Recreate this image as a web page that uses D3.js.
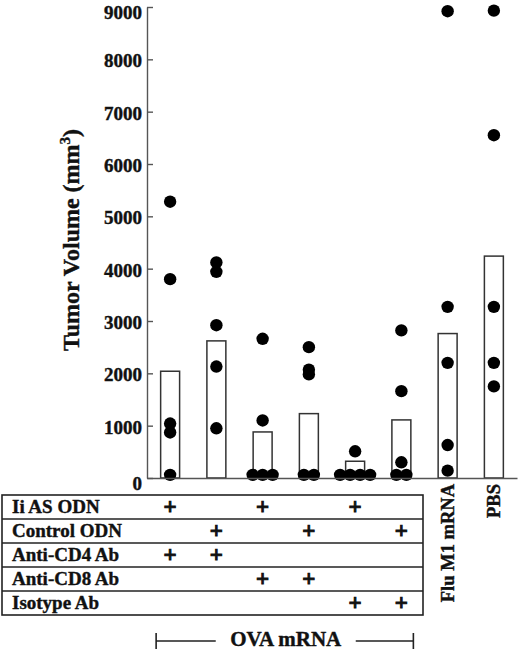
<!DOCTYPE html>
<html lang="en">
<head>
   <meta charset="UTF-8">
   <title>Tumor Volume</title>
   <style>
      html, body {
         margin: 0;
         padding: 0;
         background: #fff;
         overflow: hidden;
      }

      text {
         font-family: "Liberation Serif", "Times New Roman", serif;
         font-weight: bold;
         fill: #111;
         stroke: #111;
         stroke-width: 0.4px;
      }

      .axis path, .axis line {
         stroke: #555;
         stroke-width: 1.4;
      }

      .axis text {
         font-size: 19px;
      }

      .bar {
         fill: #fff;
         stroke: #333;
         stroke-width: 1.5;
      }

      .dot {
         fill: #000;
      }

      .grid-line {
         stroke: #222;
         stroke-width: 1.6;
         fill: none;
      }
   </style>
   <script src="https://cdn.jsdelivr.net/npm/d3@7"></script>
</head>
<body>
   <div class="chart"></div>
   <script>
      // data
      const groups = ['g1', 'g2', 'g3', 'g4', 'g5', 'g6', 'Flu M1 mRNA', 'PBS']
      const groupLabels = ['', '', '', '', '', '', 'Flu M1 mRNA', 'PBS']
      const barValues = [2040, 2620, 880, 1230, 320, 1110, 2760, 4240]
      const mouseValues = [
         [5280, 3800, 1040, 870, 60],
         [4120, 3940, 2920, 2130, 950],
         [2660, 1100, 60, 60, 60],
         [2500, 2070, 1980, 60, 60],
         [510, 60, 60, 60, 60],
         [2820, 1660, 300, 60, 60],
         [8920, 3270, 2200, 630, 140],
         [8930, 6550, 3270, 2200, 1750]
      ]
      const yTicks = [0, 1000, 2000, 3000, 4000, 5000, 6000, 7000, 8000, 9000]
      const tableRows = ['Ii AS ODN', 'Control ODN', 'Anti-CD4 Ab', 'Anti-CD8 Ab', 'Isotype Ab']
      const tablePlus = [
         ['g1', 'g3', 'g5'],
         ['g2', 'g4', 'g6'],
         ['g1', 'g2'],
         ['g3', 'g4'],
         ['g5', 'g6']
      ]
      const bracketGroups = ['g1', 'g6']
      const bracketLabel = 'OVA mRNA'

      // setup
      const WIDTH = 520
      const HEIGHT = 650
      const svg = d3.select('.chart').append('svg')
         .attr('width', WIDTH)
         .attr('height', HEIGHT)

      const AXIS_X = 147
      const RIGHT = 517
      const BASE_Y = 478
      const TOP_Y = 7

      // scales
      const xScale = d3.scaleBand()
         .domain(groups)
         .range([AXIS_X, RIGHT])
         .paddingInner(0.59)
         .paddingOuter(0.295)

      const yScale = d3.scaleLinear()
         .domain([0, 9000])
         .range([BASE_Y, TOP_Y])

      const cx = g => xScale(g) + xScale.bandwidth() / 2

      // bars
      svg.selectAll('.bar')
         .data(groups)
         .enter()
         .append('rect')
         .attr('class', 'bar')
         .attr('x', d => xScale(d))
         .attr('width', xScale.bandwidth())
         .attr('y', (d, i) => yScale(barValues[i]))
         .attr('height', (d, i) => BASE_Y - yScale(barValues[i]))

      // dots, tied values spread sideways
      const DOT_R = 6.2
      const DOT_GAP = 10
      const dots = []
      groups.forEach((g, i) => {
         const counts = d3.rollup(mouseValues[i], v => v.length, v => v)
         const seen = new Map()
         mouseValues[i].forEach(v => {
            const n = counts.get(v)
            const k = seen.get(v) || 0
            seen.set(v, k + 1)
            dots.push({ group: g, value: v, offset: (k - (n - 1) / 2) * DOT_GAP })
         })
      })

      svg.selectAll('.dot')
         .data(dots)
         .enter()
         .append('circle')
         .attr('class', 'dot')
         .attr('cx', d => cx(d.group) + d.offset)
         .attr('cy', d => yScale(d.value))
         .attr('r', DOT_R)

      // axes
      const yAxis = d3.axisLeft(yScale)
         .tickValues(yTicks)
         .tickSize(-6)
         .tickSizeOuter(0)
         .tickPadding(5)
         .tickFormat(d3.format('d'))

      const topTick = d3.max(yTicks)

      svg.append('g')
         .attr('class', 'axis')
         .attr('transform', `translate(${AXIS_X}, 0)`)
         .call(yAxis)
         .selectAll('text')
            .attr('fill', '#111')
            .attr('dy', d => d == 0 ? '0.6em' : d == topTick ? '0.58em' : '0.4em')

      const xAxis = d3.axisBottom(xScale)
         .tickSize(0)
         .tickSizeOuter(0)
         .tickFormat('')

      svg.append('g')
         .attr('class', 'axis')
         .attr('transform', `translate(0, ${BASE_Y})`)
         .call(xAxis)

      // y title
      const title = svg.append('text')
         .attr('transform', 'translate(79, 240) rotate(-90)')
         .attr('text-anchor', 'middle')
         .style('font-size', '24px')
      title.append('tspan').text('Tumor Volume (mm')
      title.append('tspan').attr('dy', -9).style('font-size', '15px').text('3')
      title.append('tspan').attr('dy', 9).text(')')

      // rotated group labels
      svg.selectAll('.group-label')
         .data(groups.filter((g, i) => groupLabels[i]))
         .enter()
         .append('text')
         .attr('class', 'group-label')
         .attr('transform', d => `translate(${cx(d) + 6}, 484) rotate(-90)`)
         .attr('text-anchor', 'end')
         .style('font-size', '18.5px')
         .text(d => groupLabels[groups.indexOf(d)])

      // treatment table
      const TABLE_LEFT = 2
      const TABLE_RIGHT = 423
      const TABLE_TOP = 495
      const ROW_H = 24

      const table = svg.append('g')

      table.append('rect')
         .attr('class', 'grid-line')
         .attr('x', TABLE_LEFT)
         .attr('y', TABLE_TOP)
         .attr('width', TABLE_RIGHT - TABLE_LEFT)
         .attr('height', ROW_H * tableRows.length)

      tableRows.forEach((row, i) => {
         const top = TABLE_TOP + i * ROW_H
         if (i > 0) {
            table.append('line')
               .attr('class', 'grid-line')
               .attr('x1', TABLE_LEFT)
               .attr('x2', TABLE_RIGHT)
               .attr('y1', top)
               .attr('y2', top)
         }
         table.append('text')
            .attr('x', 12)
            .attr('y', top + 18)
            .style('font-size', '19px')
            .text(row)

         tablePlus[i].forEach(g => {
            table.append('text')
               .attr('x', cx(g))
               .attr('y', top + 19)
               .attr('text-anchor', 'middle')
               .style('font-size', '23px')
               .style('stroke-width', '1px')
               .text('+')
         })
      })

      // OVA bracket
      const BRACKET_Y = 641
      const bx1 = cx(bracketGroups[0]) - 14
      const bx2 = cx(bracketGroups[1]) + 12
      const bmid = (bx1 + bx2) / 2 + 1
      const bracket = svg.append('g')

      bracket.append('text')
         .attr('x', bmid)
         .attr('y', BRACKET_Y + 5)
         .attr('text-anchor', 'middle')
         .style('font-size', '21px')
         .text(bracketLabel)

      bracket.append('path')
         .attr('class', 'grid-line')
         .attr('d', `M${bx1},${BRACKET_Y - 8}V${BRACKET_Y + 8}M${bx1},${BRACKET_Y}H${bmid - 70}` +
                    `M${bmid + 70},${BRACKET_Y}H${bx2}M${bx2},${BRACKET_Y - 8}V${BRACKET_Y + 8}`)
   </script>
</body>
</html>
